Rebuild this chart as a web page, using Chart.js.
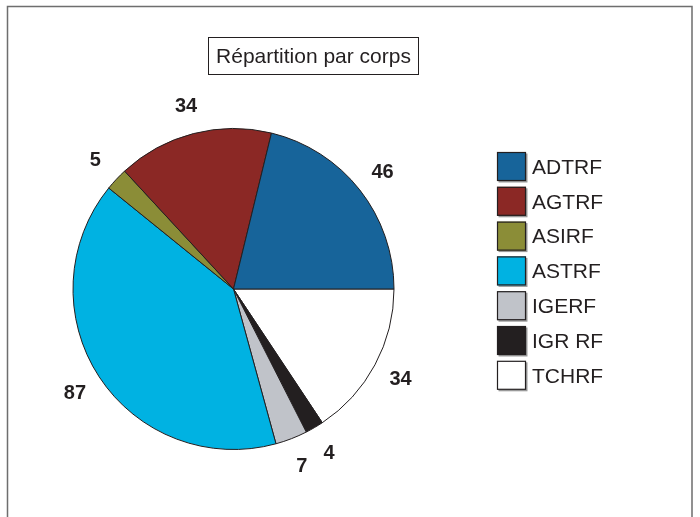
<!DOCTYPE html>
<html>
<head>
<meta charset="utf-8">
<script src="https://cdn.jsdelivr.net/npm/chart.js@4/dist/chart.umd.min.js"></script>
<style>
html,body{margin:0;padding:0;background:#fff;}
#wrap{position:relative;width:700px;height:517px;}
canvas{position:absolute;left:0;top:0;}
</style>
</head>
<body>
<div id="wrap"><canvas id="c" width="700" height="517"></canvas></div>
<script>
const title = "Répartition par corps";
const categories = ["ADTRF", "AGTRF", "ASIRF", "ASTRF", "IGERF", "IGR RF", "TCHRF"];
const values = [46, 34, 5, 87, 7, 4, 34];
const colors = ["#17649a", "#8b2825", "#8b8d37", "#00b2e2", "#c0c3c9", "#231f20", "#ffffff"];

// Reference pie runs counter-clockwise from 3 o'clock; Chart.js runs clockwise,
// so feed the series reversed and start at 3 o'clock.
const revLabels = categories.slice().reverse();
const revValues = values.slice().reverse();
const revColors = colors.slice().reverse();

const decor = {
  id: 'decor',
  beforeDraw(chart) {
    const ctx = chart.ctx;
    ctx.save();
    ctx.fillStyle = '#fff';
    ctx.fillRect(0, 0, chart.width, chart.height);
    // outer frame (bottom open)
    ctx.strokeStyle = '#6e6e6e';
    ctx.lineWidth = 1.5;
    ctx.beginPath();
    ctx.moveTo(7.5, 517);
    ctx.lineTo(7.5, 6.5);
    ctx.lineTo(692, 6.5);
    ctx.lineTo(692, 517);
    ctx.stroke();
    // title box
    ctx.strokeStyle = '#231f20';
    ctx.lineWidth = 1;
    ctx.strokeRect(208.5, 37.5, 210, 37);
    ctx.fillStyle = '#231f20';
    ctx.font = '21px "Liberation Sans", Arial, sans-serif';
    ctx.textBaseline = 'middle';
    ctx.textAlign = 'center';
    ctx.fillText(title, 313.5, 57);
    ctx.restore();
  },
  afterDraw(chart) {
    const ctx = chart.ctx;
    const meta = chart.getDatasetMeta(0);
    ctx.save();
    // value labels outside the pie
    ctx.font = 'bold 20px "Liberation Sans", Arial, sans-serif';
    ctx.fillStyle = '#231f20';
    ctx.textAlign = 'center';
    ctx.textBaseline = 'middle';
    meta.data.forEach((arc, i) => {
      const p = arc.getProps(['x', 'y', 'startAngle', 'endAngle', 'outerRadius'], true);
      const mid = (p.startAngle + p.endAngle) / 2;
      const r = p.outerRadius + 29;
      ctx.fillText(String(revValues[i]), p.x + Math.cos(mid) * r, p.y + Math.sin(mid) * r + 1);
    });
    // legend (original order)
    ctx.font = '21px "Liberation Sans", Arial, sans-serif';
    ctx.textAlign = 'left';
    categories.forEach((name, i) => {
      const x = 497, y = 152 + i * 34.8, s = 29;
      ctx.fillStyle = '#9a9a9a';
      ctx.fillRect(x + 1.5, y + 1.5, s, s);
      ctx.fillStyle = colors[i];
      ctx.fillRect(x, y, s, s);
      ctx.strokeStyle = '#231f20';
      ctx.lineWidth = 1.2;
      ctx.strokeRect(x + 0.5, y + 0.5, s - 1, s - 1);
      ctx.fillStyle = '#231f20';
      ctx.fillText(name, 532, y + s / 2 + 1.5);
    });
    ctx.restore();
  }
};

new Chart(document.getElementById('c'), {
  type: 'pie',
  data: {
    labels: revLabels,
    datasets: [{
      data: revValues,
      backgroundColor: revColors,
      borderColor: '#231f20',
      borderWidth: 1
    }]
  },
  options: {
    responsive: false,
    animation: false,
    rotation: 90,
    layout: { padding: { left: 72, right: 305, top: 128, bottom: 67 } },
    plugins: { legend: { display: false }, tooltip: { enabled: false }, title: { display: false } }
  },
  plugins: [decor]
});
</script>
</body>
</html>
